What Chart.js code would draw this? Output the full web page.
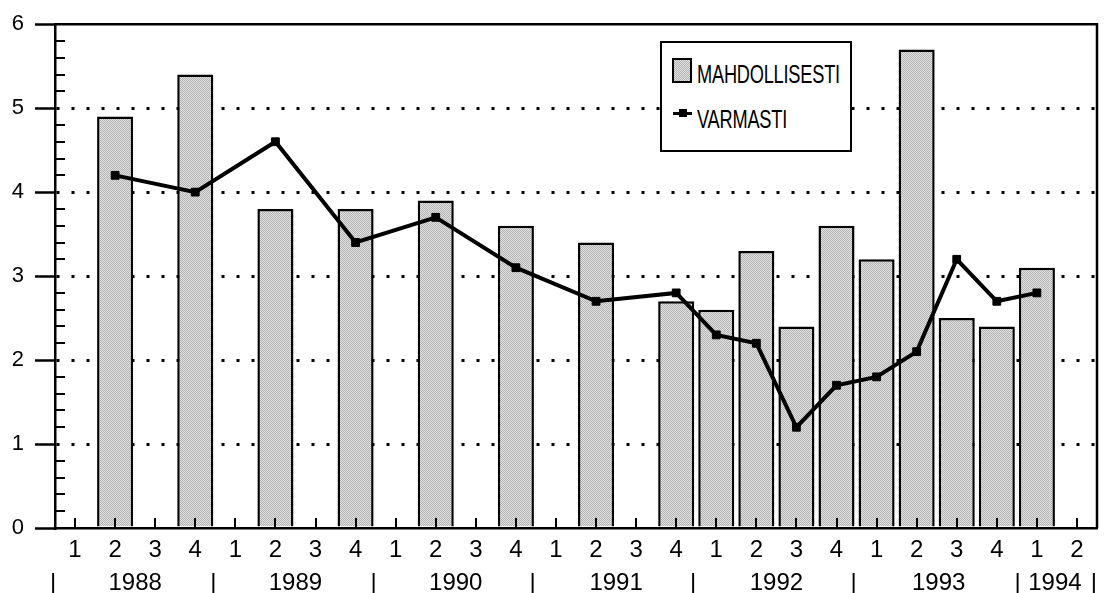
<!DOCTYPE html>
<html>
<head>
<meta charset="utf-8">
<script src="https://cdn.jsdelivr.net/npm/chart.js@4.4.0/dist/chart.umd.min.js"></script>
<style>
body{margin:0;background:#fff;}
#wrap{position:relative;width:1106px;height:593px;}
#legend{position:absolute;left:660px;top:41px;width:192px;height:111px;box-sizing:border-box;border:2px solid #000;background:#fff;}
.lg-text{position:absolute;left:35px;font-family:'Liberation Sans',Arial,sans-serif;font-size:26px;line-height:28px;color:#000;transform:scaleX(0.7);transform-origin:left center;letter-spacing:-0.3px;white-space:nowrap;}
.sw-bar{position:absolute;left:10px;top:15px;width:20px;height:25px;box-sizing:border-box;border:2px solid #000;background-color:#cacaca;background-image:repeating-conic-gradient(#b2b2b2 0 25%,#e2e2e2 0 50%);background-size:2px 2px;}
.sw-line{position:absolute;left:11px;top:69px;width:19px;height:3px;background:#000;}
.sw-pt{position:absolute;left:17px;top:66px;width:8px;height:8px;background:#000;}
</style>
</head>
<body>
<div id="wrap">
<canvas id="mainChart" width="1106" height="593"></canvas>
<div id="legend"></div>
</div>
<script>
// quarters 1988 Q1 .. 1994 Q2
const quarters=['1','2','3','4','1','2','3','4','1','2','3','4','1','2','3','4','1','2','3','4','1','2','3','4','1','2'];
const mahdollisesti=[null,4.9,null,5.4, null,3.8,null,3.8, null,3.9,null,3.6, null,3.4,null,2.7, 2.6,3.3,2.4,3.6, 3.2,5.7,2.5,2.4, 3.1,null];
const varmasti=[null,4.2,null,4.0, null,4.6,null,3.4, null,3.7,null,3.1, null,2.7,null,2.8, 2.3,2.2,1.2,1.7, 1.8,2.1,3.2,2.7, 2.8,null];
const yearLabels=['|','1988','|','1989','|','1990','|','1991','|','1992','|','1993','|','1994','|'];
const yearTicks=[-0.55,1.5,3.45,5.5,7.45,9.5,11.42,13.5,15.42,17.5,19.43,21.55,23.52,24.45,25.42];
const yTicks=[0,1,2,3,4,5,6];

const FONT="'Liberation Sans', Arial, sans-serif";

function makePattern(){
    const c=document.createElement('canvas');
    c.width=2;c.height=2;
    const g=c.getContext('2d');
    g.fillStyle='#e2e2e2';g.fillRect(0,0,2,2);
    g.fillStyle='#b2b2b2';g.fillRect(0,0,1,1);g.fillRect(1,1,1,1);
    return g.createPattern(c,'repeat');
}

const frameTicks={
    id:'frameTicks',
    afterDatasetsDraw(chart){
        const ctx=chart.ctx, a=chart.chartArea, x=chart.scales.x, y=chart.scales.y;
        ctx.save();
        ctx.strokeStyle='#000';
        ctx.lineWidth=2.5;
        ctx.beginPath();
        ctx.moveTo(a.left,a.top);ctx.lineTo(a.right,a.top);ctx.lineTo(a.right,a.bottom);
        ctx.stroke();
        ctx.lineWidth=2;
        ctx.beginPath();
        for(let i=0;i<quarters.length;i++){
            const px=Math.round(x.getPixelForValue(i));
            ctx.moveTo(px,a.bottom);ctx.lineTo(px,a.bottom-10);
        }
        for(let k=1;k<30;k++){
            if(k%5===0) continue;
            const py=Math.round(y.getPixelForValue(k/5));
            ctx.moveTo(a.left,py);ctx.lineTo(a.left+10,py);
        }
        ctx.stroke();
        ctx.restore();
    }
};

const ctx=document.getElementById('mainChart').getContext('2d');
const myChart=new Chart(ctx,{
    type:'bar',
    data:{
        labels:quarters,
        datasets:[{
            type:'line',
            label:'VARMASTI',
            data:varmasti,
            borderColor:'#000',
            borderWidth:4,
            pointStyle:'rect',
            pointRadius:5.5,
            pointBackgroundColor:'#000',
            pointBorderColor:'#000',
            pointBorderWidth:1,
            spanGaps:true,
            tension:0,
            order:0
        },{
            type:'bar',
            label:'MAHDOLLISESTI',
            data:mahdollisesti,
            backgroundColor:makePattern(),
            borderColor:'#000',
            borderWidth:2.5,
            barPercentage:0.9,
            categoryPercentage:1,
            order:1
        }]
    },
    options:{
        responsive:false,
        animation:false,
        layout:{padding:{top:20,right:9,left:0,bottom:0}},
        plugins:{legend:{display:false},tooltip:{enabled:false}},
        scales:{
            x:{
                weight:0,
                offset:true,
                grid:{display:false,drawTicks:false},
                border:{display:true,color:'#000',width:2.5},
                ticks:{color:'#000',font:{family:FONT,size:24},padding:8,maxRotation:0,autoSkip:false},
                afterFit:s=>{s.height=36;}
            },
            xYear:{
                type:'linear',
                position:'bottom',
                weight:1,
                offset:false,
                min:-0.5,max:25.5,
                grid:{display:false,drawTicks:false,offset:false},
                border:{display:false},
                ticks:{color:'#000',font:{family:FONT,size:24},padding:5,maxRotation:0,autoSkip:false,
                    callback:(v,i)=>yearLabels[i]},
                afterBuildTicks:s=>{s.ticks=yearTicks.map(v=>({value:v}));},
                afterFit:s=>{s.height=29;}
            },
            y:{
                min:0,max:6,
                afterBuildTicks:s=>{s.ticks=yTicks.map(v=>({value:v}));},
                ticks:{color:'#000',font:{family:FONT,size:22},padding:11},
                grid:{
                    color:c=>(c.tick&&(c.tick.value===0||c.tick.value===6))?'rgba(0,0,0,0)':'#000',
                    lineWidth:3,
                    drawTicks:true,tickLength:20,tickColor:'#000',tickWidth:2.5
                },
                border:{display:true,color:'#000',width:2.5,dash:[3,12]},
                afterFit:s=>{s.width=55;}
            }
        }
    },
    plugins:[frameTicks]
});

// legend built from the chart's datasets
const legend=document.getElementById('legend');
const order=[1,0];
order.forEach((di,row)=>{
    const ds=myChart.data.datasets[di];
    if(ds.type==='bar'){
        const s=document.createElement('div');s.className='sw-bar';legend.appendChild(s);
    }else{
        const l=document.createElement('div');l.className='sw-line';legend.appendChild(l);
        const p=document.createElement('div');p.className='sw-pt';legend.appendChild(p);
    }
    const t=document.createElement('div');
    t.className='lg-text';
    t.style.top=(row===0?17:62)+'px';
    t.textContent=ds.label;
    legend.appendChild(t);
});
</script>
</body>
</html>
